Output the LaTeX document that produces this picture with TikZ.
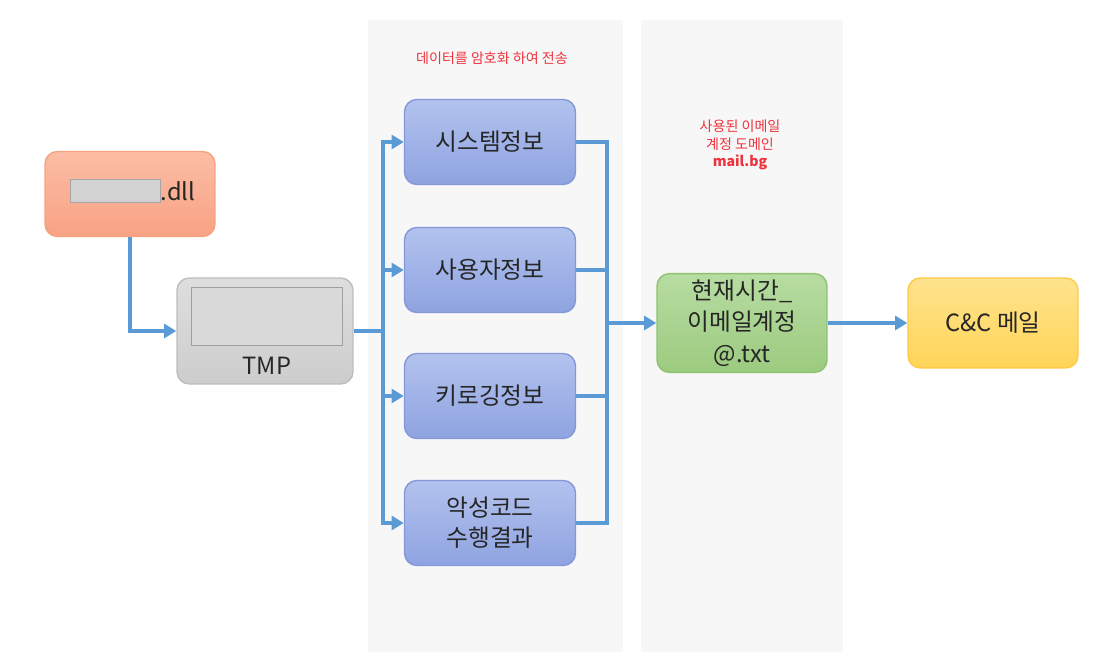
\documentclass[tikz,border=0pt]{standalone}
\usepackage{fontspec}
\usepackage{xcolor}
\usepackage{tikz}
\usetikzlibrary{positioning, arrows.meta}
\setmainfont{Noto Sans CJK KR}
\definecolor{panelgray}{HTML}{F7F7F7}
\definecolor{flowblue}{HTML}{5B9BD5}
\definecolor{infotop}{HTML}{B3C2EE}
\definecolor{infobot}{HTML}{8EA3E0}
\definecolor{infoline}{HTML}{8497D8}
\definecolor{dlltop}{HTML}{FBBDA4}
\definecolor{dllbot}{HTML}{F8A284}
\definecolor{dllline}{HTML}{F4A27F}
\definecolor{tmptop}{HTML}{DEDEDE}
\definecolor{tmpbot}{HTML}{CDCDCD}
\definecolor{tmpline}{HTML}{BDBDBD}
\definecolor{logtop}{HTML}{B7DCA2}
\definecolor{logbot}{HTML}{9CCB7F}
\definecolor{logline}{HTML}{8EC270}
\definecolor{mailtop}{HTML}{FFE48E}
\definecolor{mailbot}{HTML}{FFD457}
\definecolor{mailline}{HTML}{FFC947}
\definecolor{noteRed}{HTML}{F0323C}
\definecolor{boxtext}{HTML}{262626}

\begin{document}
\begin{tikzpicture}[x=0.02cm, y=-0.02cm,
  box/.style={rounded corners=7pt, line width=0.8pt, minimum width=3.4cm,
              minimum height=1.7cm, align=center, text=boxtext,
              font=\fontsize{13.5}{17}\selectfont},
  infobox/.style={box, top color=infotop, bottom color=infobot, draw=infoline, minimum width=3.42cm},
  flow/.style={draw=flowblue, line width=2.2pt},
  flowarrow/.style={flow, -{Triangle[length=7pt, width=8pt]}},
  note/.style={text=noteRed, align=center, font=\fontsize{8}{10}\selectfont}]
  \useasboundingbox (0,0) rectangle (1106,652);
  \fill[panelgray] (368,20) rectangle (623,652);
  \fill[panelgray] (641,20) rectangle (843,652);

  \node[box, top color=dlltop, bottom color=dllbot, draw=dllline] (dll) at (130,194) {};
  \node[draw=gray!70, fill=gray!35, minimum width=1.8cm, minimum height=0.46cm, inner sep=0pt] (dllmask) at (115,191) {};
  \node[right=0pt of dllmask.east, inner sep=0pt, text=boxtext, font=\fontsize{13.5}{15}\selectfont] (dlltext) {.dll};

  \node[box, top color=tmptop, bottom color=tmpbot, draw=tmpline, minimum width=3.52cm, minimum height=2.12cm] (tmp) at (265,331) {};
  \node[draw=gray!75, fill=gray!30, minimum width=3.02cm, minimum height=1.16cm, inner sep=0pt] (tmpscreen) at (267,316) {};
  \node[below=3pt of tmpscreen, text=boxtext, font=\fontsize{13.5}{15}\selectfont] (tmptext) {TMP};

  \node[infobox] (sysinfo) at (490,142) {시스템정보};
  \node[infobox] (userinfo) at (490,270) {사용자정보};
  \node[infobox] (keylog) at (490,396) {키로깅정보};
  \node[infobox] (result) at (490,523) {악성코드\\수행결과};

  \node[box, top color=logtop, bottom color=logbot, draw=logline, minimum height=1.8cm,
        font=\fontsize{13.5}{18}\selectfont] (logfile) at (742,323) {현재시간\_\\이메일계정\\@.txt};
  \node[box, top color=mailtop, bottom color=mailbot, draw=mailline, minimum height=1.8cm] (ccmail) at (993,323) {C\&C 메일};

  \node[note] (encnote) at (492,58) {데이터를 암호화 하여 전송};
  \node[note] (mailnote) at (740,145) {사용된 이메일\\계정 도메인\\\textbf{mail.bg}};

  \coordinate (split) at (383,331);
  \coordinate (merge) at (607,323);
  \draw[flowarrow] (dll.south) |- (tmp.west);
  \draw[flow] (tmp.east) -- (split);
  \draw[flowarrow] (split) |- (sysinfo.west);
  \draw[flowarrow] (split) |- (userinfo.west);
  \draw[flowarrow] (split) |- (keylog.west);
  \draw[flowarrow] (split) |- (result.west);
  \draw[flow] (sysinfo.east) -| (merge);
  \draw[flow] (userinfo.east) -| (merge);
  \draw[flow] (keylog.east) -| (merge);
  \draw[flow] (result.east) -| (merge);
  \draw[flowarrow] (merge) -- (logfile.west);
  \draw[flowarrow] (logfile.east) -- (ccmail.west);
\end{tikzpicture}
\end{document}
